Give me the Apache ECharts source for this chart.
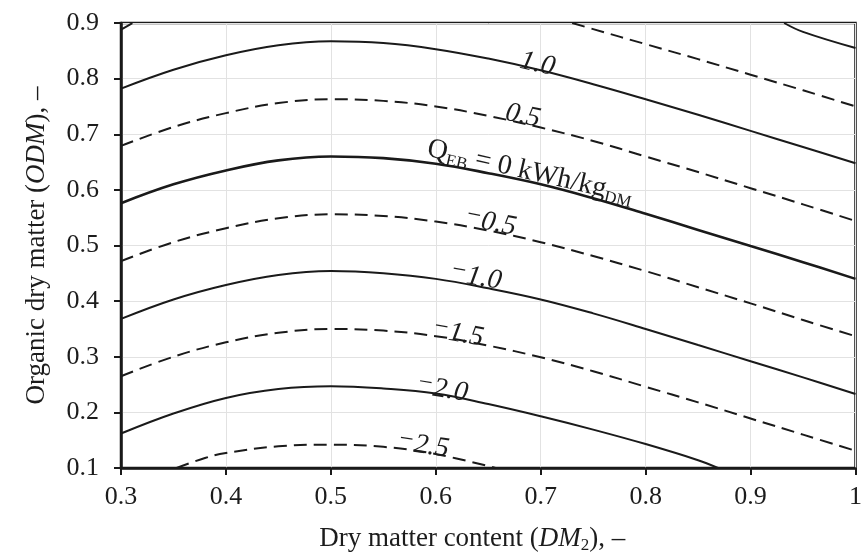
<!DOCTYPE html>
<html>
<head>
<meta charset="utf-8">
<script src="https://cdn.jsdelivr.net/npm/echarts@6/dist/echarts.min.js"></script>
<style>
  html, body { margin: 0; background: #fff; }
  #chart { width: 865px; height: 559px; }
</style>
</head>
<body>
<div id="chart"></div>
<script>
// contour lines of Q_EB (kWh/kg_DM), points read as [DM2, ODM]
var q2_0 = [[0.932, 0.9], [0.95, 0.884], [1.0, 0.855]];
var q1_5a = [[0.3, 0.888], [0.311, 0.9]];
var q1_5b = [[0.73, 0.9], [0.75, 0.889], [0.8, 0.862], [0.85, 0.835], [0.9, 0.807], [0.95, 0.779], [1.0, 0.75]];
var q1_0 = [[0.3, 0.782], [0.35, 0.816], [0.4, 0.842], [0.45, 0.860], [0.5, 0.867], [0.55, 0.864], [0.6, 0.853],
  [0.65, 0.836], [0.7, 0.815], [0.75, 0.790], [0.8, 0.763], [0.85, 0.735], [0.9, 0.706], [0.95, 0.677], [1.0, 0.648]];
var q0_5 = [[0.3, 0.679], [0.35, 0.713], [0.4, 0.738], [0.45, 0.756], [0.5, 0.763], [0.55, 0.760], [0.6, 0.750],
  [0.65, 0.733], [0.7, 0.712], [0.75, 0.688], [0.8, 0.660], [0.85, 0.632], [0.9, 0.603], [0.95, 0.574], [1.0, 0.544]];
var q0_0 = [[0.3, 0.576], [0.35, 0.610], [0.4, 0.635], [0.45, 0.653], [0.5, 0.660], [0.55, 0.657], [0.6, 0.647],
  [0.65, 0.630], [0.7, 0.610], [0.75, 0.585], [0.8, 0.557], [0.85, 0.528], [0.9, 0.499], [0.95, 0.470], [1.0, 0.440]];
var qm0_5 = [[0.3, 0.472], [0.35, 0.506], [0.4, 0.531], [0.45, 0.549], [0.5, 0.556], [0.55, 0.553], [0.6, 0.543],
  [0.65, 0.527], [0.7, 0.506], [0.75, 0.481], [0.8, 0.454], [0.85, 0.425], [0.9, 0.396], [0.95, 0.366], [1.0, 0.337]];
var qm1_0 = [[0.3, 0.368], [0.35, 0.403], [0.4, 0.429], [0.45, 0.447], [0.5, 0.454], [0.55, 0.450], [0.6, 0.440],
  [0.65, 0.423], [0.7, 0.403], [0.75, 0.378], [0.8, 0.350], [0.85, 0.321], [0.9, 0.292], [0.95, 0.263], [1.0, 0.233]];
var qm1_5 = [[0.3, 0.265], [0.35, 0.300], [0.4, 0.326], [0.45, 0.343], [0.5, 0.350], [0.55, 0.347], [0.6, 0.337],
  [0.65, 0.320], [0.7, 0.299], [0.75, 0.274], [0.8, 0.246], [0.85, 0.218], [0.9, 0.189], [0.95, 0.160], [1.0, 0.131]];
var qm2_0 = [[0.3, 0.162], [0.35, 0.198], [0.4, 0.226], [0.45, 0.242], [0.5, 0.247], [0.55, 0.243], [0.6, 0.234],
  [0.65, 0.215], [0.7, 0.193], [0.75, 0.169], [0.8, 0.143], [0.85, 0.114], [0.869, 0.1]];
var qm2_5 = [[0.353, 0.1], [0.38, 0.118], [0.4, 0.127], [0.45, 0.139], [0.5, 0.142], [0.55, 0.138], [0.6, 0.125], [0.657, 0.1]];

var xTicks = [0.3, 0.4, 0.5, 0.6, 0.7, 0.8, 0.9, 1];
var yTicks = [0.1, 0.2, 0.3, 0.4, 0.5, 0.6, 0.7, 0.8, 0.9];

// contour label texts, in the order of the label spots below
var labelTexts = ['1.0', '0.5', 'Q{s|EB} = 0 kWh/kg{s|DM}', '{m|−}{n|0.5}', '{m|−}{n|1.0}', '{m|−}{n|1.5}', '{m|−}{n|2.0}', '{m|−}{n|2.5}'];

// where each label sits: [DM2, ODM, rotation]
var labelSpots = [[0.697, 0.826, -13], [0.683, 0.733, -12], [0.69, 0.632, -13], [0.652, 0.541, -11],
  [0.638, 0.443, -10], [0.621, 0.341, -10], [0.606, 0.241, -9], [0.588, 0.140, -8]];

var serif = '"Liberation Serif", "Times New Roman", serif';
var ink = '#1a1a1a';
var textInk = '#1c1c1c';

function contour(data, dashed, width) {
  return {
    type: 'line',
    data: data,
    smooth: 0.4,
    symbol: 'none',
    silent: true,
    lineStyle: { color: ink, width: width || 2, type: dashed ? [13, 7] : 'solid' }
  };
}

var series = [
  contour(q2_0, false),
  contour(q1_5a, true),
  contour(q1_5b, true),
  contour(q1_0, false),
  contour(q0_5, true),
  contour(q0_0, false, 2.6),
  contour(qm0_5, true),
  contour(qm1_0, false),
  contour(qm1_5, true),
  contour(qm2_0, false),
  contour(qm2_5, true)
];

var labelData = labelSpots.map(function (s, i) {
  return {
    value: [s[0], s[1]],
    label: { rotate: s[2], formatter: labelTexts[i], fontStyle: i === 2 ? 'normal' : 'italic' }
  };
});

series.push({
  type: 'scatter',
  data: labelData,
  symbolSize: 0,
  itemStyle: { color: 'transparent', opacity: 1 },
  silent: true,
  z: 5,
  label: {
    show: true,
    opacity: 1,
    position: [0, 0],
    align: 'center',
    verticalAlign: 'middle',
    color: textInk,
    textBorderWidth: 0,
    fontFamily: serif,
    fontSize: 28,
    lineHeight: 32,
    rich: {
      n: { fontFamily: serif, fontSize: 28, fontStyle: 'italic', lineHeight: 32, color: textInk },
      m: { fontFamily: serif, fontSize: 25, fontStyle: 'italic', lineHeight: 15, verticalAlign: 'top', color: textInk },
      s: { fontFamily: serif, fontSize: 17, lineHeight: 17, verticalAlign: 'bottom', color: textInk }
    }
  }
});

var chart = echarts.init(document.getElementById('chart'), null, { renderer: 'canvas' });

chart.setOption({
  backgroundColor: '#fff',
  animation: false,
  grid: { left: 121, right: 7, top: 23, bottom: 90, show: true, borderColor: ink, borderWidth: 2.5 },
  xAxis: {
    type: 'value',
    min: xTicks[0],
    max: xTicks[xTicks.length - 1],
    interval: 0.1,
    name: 'Dry matter content ({i|DM}{s|2}), –',
    nameLocation: 'middle',
    nameGap: 56,
    nameTextStyle: {
      color: textInk, fontFamily: serif, fontSize: 27, lineHeight: 30, padding: [0, 32, 0, 0],
      rich: {
        i: { fontFamily: serif, fontSize: 27, fontStyle: 'italic', lineHeight: 30, color: textInk },
        s: { fontFamily: serif, fontSize: 17, lineHeight: 17, verticalAlign: 'bottom', color: textInk }
      }
    },
    axisLine: { show: true, lineStyle: { color: ink, width: 2.5 } },
    axisTick: { show: true, inside: false, length: 7, lineStyle: { color: ink, width: 2 } },
    axisLabel: {
      color: textInk, fontFamily: serif, fontSize: 26, margin: 16,
      formatter: function (v) { return String(+v.toFixed(1)); }
    },
    splitLine: { show: true, lineStyle: { color: '#e2e2e2', width: 1 } }
  },
  yAxis: {
    type: 'value',
    min: yTicks[0],
    max: yTicks[yTicks.length - 1],
    interval: 0.1,
    name: 'Organic dry matter ({i|ODM}), –',
    nameLocation: 'middle',
    nameGap: 69,
    nameTextStyle: {
      color: textInk, fontFamily: serif, fontSize: 27, lineHeight: 30,
      rich: { i: { fontFamily: serif, fontSize: 27, fontStyle: 'italic', lineHeight: 30, color: textInk } }
    },
    axisLine: { show: true, lineStyle: { color: ink, width: 2.5 } },
    axisTick: { show: true, inside: false, length: 7, lineStyle: { color: ink, width: 2 } },
    axisLabel: {
      color: textInk, fontFamily: serif, fontSize: 26, margin: 22,
      formatter: function (v) { return (+v).toFixed(1); }
    },
    splitLine: { show: true, lineStyle: { color: '#e2e2e2', width: 1 } }
  },
  series: series
});

window.addEventListener('resize', chart.resize);
</script>
</body>
</html>
